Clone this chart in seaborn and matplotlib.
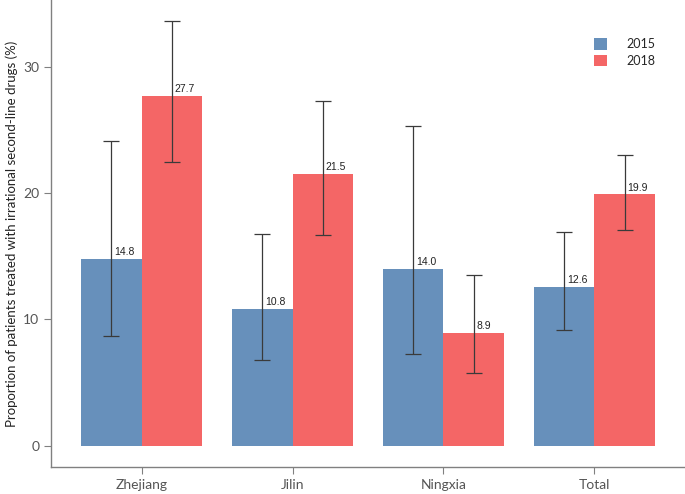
import pandas as pd
import seaborn as sns
import matplotlib.pyplot as plt

# values
regions = ['Zhejiang', 'Jilin', 'Ningxia', 'Total']
years = ['2015', '2018']
vals_2015 = [14.8, 10.8, 14.0, 12.6]
vals_2018 = [27.7, 21.5, 8.9, 19.9]
low_2015 = [8.7, 6.8, 7.3, 9.2]
high_2015 = [24.1, 16.8, 25.3, 16.9]
low_2018 = [22.5, 16.7, 5.8, 17.1]
high_2018 = [33.6, 27.3, 13.5, 23.0]

df = pd.DataFrame({
    'region': regions * 2,
    'year': ['2015'] * 4 + ['2018'] * 4,
    'value': vals_2015 + vals_2018,
})

sns.set_style('white')
plt.rcParams['font.family'] = ['Lato', 'DejaVu Sans']

fig = plt.figure(figsize=(6.85, 4.94), dpi=100)
ax = fig.add_axes([0.0745, 0.055, 0.9255, 0.945])

pal = {'2015': '#6790BB', '2018': '#F46666'}
sns.barplot(data=df, x='region', y='value', hue='year', hue_order=years,
            palette=pal, errorbar=None, width=0.8, saturation=1,
            linewidth=0, ax=ax)

lows = [low_2015, low_2018]
highs = [high_2015, high_2018]
bar_groups = list(ax.containers)
for i, cont in enumerate(bar_groups):
    for j, bar in enumerate(cont.patches):
        xc = bar.get_x() + bar.get_width() / 2
        h = bar.get_height()
        ax.errorbar(xc, h, yerr=[[h - lows[i][j]], [highs[i][j] - h]],
                    fmt='none', ecolor='#3a3a3a', elinewidth=0.9,
                    capsize=5.5, capthick=0.9)
        ax.text(xc + 0.02, h + 0.15, f'{h:.1f}', ha='left', va='bottom',
                fontsize=7.5, color='#222222', family='Liberation Sans')

ax.set_xlim(-0.6, 3.6)
ax.set_ylim(-1.67, 35.3)
ax.set_yticks([0, 10, 20, 30])
ax.set_xlabel('')
ax.set_ylabel('Proportion of patients treated with irrational second-line drugs (%)',
              fontsize=9.5, color='#222222')

for s in ['top', 'right']:
    ax.spines[s].set_visible(False)
for s in ['left', 'bottom']:
    ax.spines[s].set_color('#808080')
    ax.spines[s].set_linewidth(1.0)
ax.tick_params(axis='both', direction='out', length=5, color='#808080',
               labelsize=10, labelcolor='#555555', bottom=True, left=True)

ax.legend(loc='upper left', bbox_to_anchor=(0.857, 0.918), frameon=False,
          fontsize=9, handlelength=1.0, handleheight=1.0, handletextpad=1.6,
          labelspacing=0.35, borderpad=0, borderaxespad=0)

fig.savefig('out.png', dpi=100)
